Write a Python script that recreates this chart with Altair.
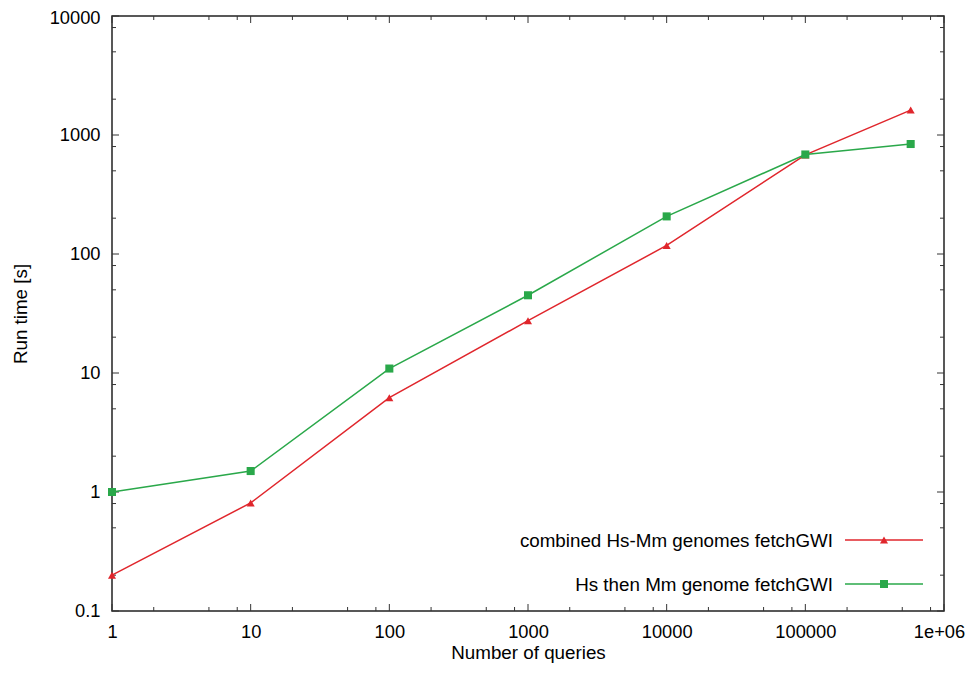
import altair as alt
import pandas as pd

# ---- data ----
queries = [1, 10, 100, 1000, 10000, 100000, 575000]
combined = [0.2, 0.81, 6.2, 27.5, 118, 680, 1620]
separate = [1.0, 1.5, 10.9, 45, 207, 686, 840]
series_names = ["combined Hs-Mm genomes fetchGWI", "Hs then Mm genome fetchGWI"]
series_colors = ["#e0262c", "#2aa84a"]
series_shapes = ["triangle-up", "square"]

x_major = [1, 10, 100, 1000, 10000, 100000, 1000000]
x_labels = ["1", "10", "100", "1000", "10000", "100000", "1e+06"]
y_major = [0.1, 1, 10, 100, 1000, 10000]
y_labels = ["0.1", "1", "10", "100", "1000", "10000"]
minor_mult = [2, 5, 8]

W, H = 832, 595
FONT = "Liberation Sans"

rows = []
for q, v in zip(queries, combined):
    rows.append({"queries": q, "time": v, "series": series_names[0]})
for q, v in zip(queries, separate):
    rows.append({"queries": q, "time": v, "series": series_names[1]})
df = pd.DataFrame(rows)

x_minor = [m * d for d in x_major[:-1] for m in minor_mult]
y_minor = [m * d for d in y_major[:-1] for m in minor_mult]
xt_major = pd.DataFrame({"queries": x_major})
xt_minor = pd.DataFrame({"queries": x_minor})
yt_major = pd.DataFrame({"time": y_major})
yt_minor = pd.DataFrame({"time": y_minor})


def label_expr(vals, labels):
    v = ",".join(repr(x) for x in vals)
    l = ",".join("'" + s + "'" for s in labels)
    return f"[{l}][indexof([{v}], datum.value)]"


X = alt.X(
    "queries:Q",
    scale=alt.Scale(type="log", domain=[1, 1000000], nice=False),
    axis=alt.Axis(values=x_major, labelExpr=label_expr(x_major, x_labels),
                  title="Number of queries", grid=False, ticks=False, tickSize=0,
                  domain=False, labelPadding=12, titlePadding=3,
                  labelFlush=False, labelOverlap=False,
                  labelOffset={"condition": {"test": f"datum.value >= {x_major[-1]}",
                                             "value": -5}, "value": 0}),
)
Y = alt.Y(
    "time:Q",
    scale=alt.Scale(type="log", domain=[0.1, 10000], nice=False),
    axis=alt.Axis(values=y_major, labelExpr=label_expr(y_major, y_labels),
                  title="Run time [s]", grid=False, ticks=False, tickSize=0,
                  domain=False, labelPadding=12, titlePadding=19,
                  labelFlush=False, labelOverlap=False,
                  labelOffset={"condition": {"test": f"datum.value >= {y_major[-1]}",
                                             "value": 2}, "value": 0}),
)
color = alt.Color("series:N", scale=alt.Scale(domain=series_names, range=series_colors), legend=None)
shape = alt.Shape("series:N", scale=alt.Scale(domain=series_names, range=series_shapes), legend=None)

tick_color = "#333333"
MAJ, MIN = 7, 4

lines = alt.Chart(df).mark_line(strokeWidth=1.5).encode(x=X, y=Y, color=color)
points = alt.Chart(df).mark_point(filled=True, size=65, opacity=1).encode(
    x=X, y=Y, color=color, shape=shape)

def xticks(data, length):
    bot = alt.Chart(data).mark_rule(color=tick_color, strokeWidth=1).encode(
        x=X, y=alt.value(H), y2=alt.value(H - length))
    top = alt.Chart(data).mark_rule(color=tick_color, strokeWidth=1).encode(
        x=X, y=alt.value(0), y2=alt.value(length))
    return [bot, top]

def yticks(data, length):
    left = alt.Chart(data).mark_rule(color=tick_color, strokeWidth=1).encode(
        y=Y, x=alt.value(0), x2=alt.value(length))
    right = alt.Chart(data).mark_rule(color=tick_color, strokeWidth=1).encode(
        y=Y, x=alt.value(W), x2=alt.value(W - length))
    return [left, right]

main = alt.layer(
    *xticks(xt_major, MAJ), *xticks(xt_minor, MIN),
    *yticks(yt_major, MAJ), *yticks(yt_minor, MIN),
    lines, points,
)

# ---- legend (gnuplot style: text, then line sample with marker) ----
leg_df = pd.DataFrame({"series": series_names})
LY = alt.Y("series:N", scale=alt.Scale(type="point", domain=series_names,
                                         range=[524, 568], padding=0), axis=None)
leg_text = alt.Chart(leg_df).mark_text(
    align="right", baseline="middle", font=FONT, fontSize=18.8, color="black", dy=1
).encode(x=alt.value(721), y=LY, text="series:N")
leg_rule = alt.Chart(leg_df).mark_rule(strokeWidth=1.5).encode(
    x=alt.value(733), x2=alt.value(811), y=LY, color=color)
leg_pt = alt.Chart(leg_df).mark_point(filled=True, size=65, opacity=1).encode(
    x=alt.value(772), y=LY, color=color, shape=shape)
legend = alt.layer(leg_rule, leg_pt, leg_text)

chart = (
    alt.layer(main, legend)
    .resolve_scale(y="independent")
    .properties(width=W, height=H, autosize="none",
                padding={"left": 104, "top": 8, "right": 22, "bottom": 53},
                background="white")
    .configure_view(stroke="#222222", strokeWidth=1.5)
    .configure_axis(labelFont=FONT, labelFontSize=18.3, labelColor="black",
                    titleFont=FONT, titleFontSize=18.8, titleColor="black",
                    titleFontWeight="normal")
)

chart.save("out.html", embed_options={"renderer": "svg", "actions": False})
